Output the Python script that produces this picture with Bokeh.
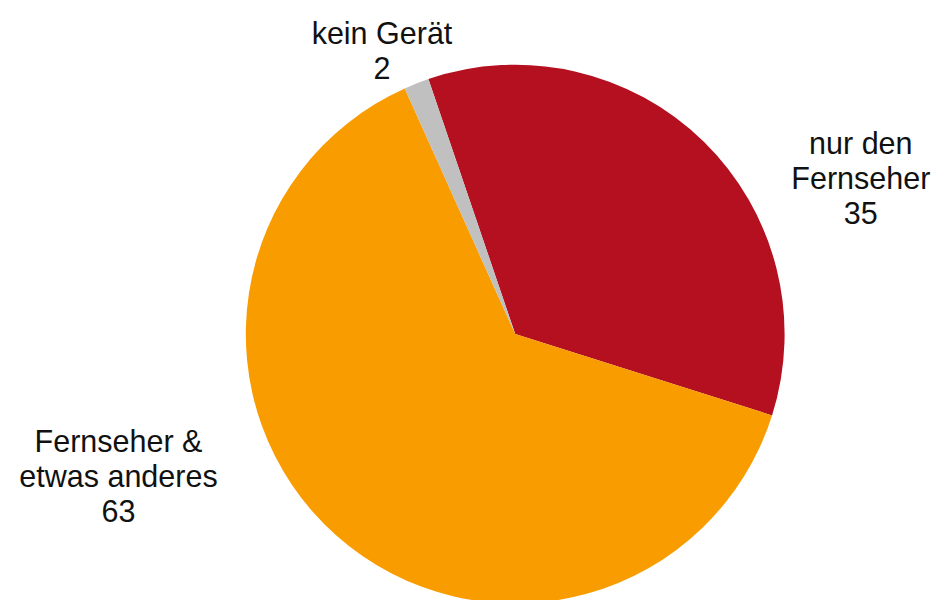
import math
from bokeh.plotting import figure
from bokeh.models import Range1d, ColumnDataSource
from bokeh.core.properties import value
from bokeh.embed import file_html
from bokeh.resources import INLINE

# ---- data ----
categories = ["nur den\nFernseher", "Fernseher &\netwas anderes", "kein Gerät"]
values = [35.1, 63.4, 1.5]          # shares in percent (labels are rounded)

# ---- style / layout ----
colors = ["#B41020", "#F99C00", "#C0C0C0"]
W, H = 936, 600                      # pixel size of the figure
DW, DH = 952, 616                    # data-space size (reference layout)
start_deg = 108.8                    # where the first slice begins (math angle)
center = (523.5, 273.5)
radius = 274
# label anchors: (x centre, first baseline from top), line step
label_anchor = [(875, 146), (120, 452), (388, 33.5)]
line_step = 36.3

p = figure(width=W, height=H, output_backend="svg", toolbar_location=None,
           x_range=Range1d(0, DW), y_range=Range1d(0, DH), min_border=0)
p.axis.visible = False
p.grid.visible = False
p.outline_line_color = None
p.background_fill_color = "white"
p.border_fill_color = "white"

total = sum(values)
starts, ends = [], []
cur = math.radians(start_deg)
for v in values:
    span = 2 * math.pi * v / total
    ends.append(cur)
    starts.append(cur - span)
    cur -= span

src = ColumnDataSource(dict(start=starts, end=ends, color=colors))
p.wedge(x=center[0], y=center[1], radius=radius, start_angle="start",
        end_angle="end", fill_color="color", line_color=None, source=src)

tx, ty, tt = [], [], []
for cat, v, (ax, ay) in zip(categories, values, label_anchor):
    lines = cat.split("\n") + [f"{v:.0f}"]
    for i, ln in enumerate(lines):
        tx.append(ax)
        ty.append(DH - (ay + i * line_step))
        tt.append(ln)

p.text(x=tx, y=ty, text=tt, text_font=value("Liberation Sans"),
       text_font_size="30.5px", text_align="center", text_baseline="alphabetic",
       text_color="#111111")

open("out.html", "w").write(file_html(p, INLINE))
